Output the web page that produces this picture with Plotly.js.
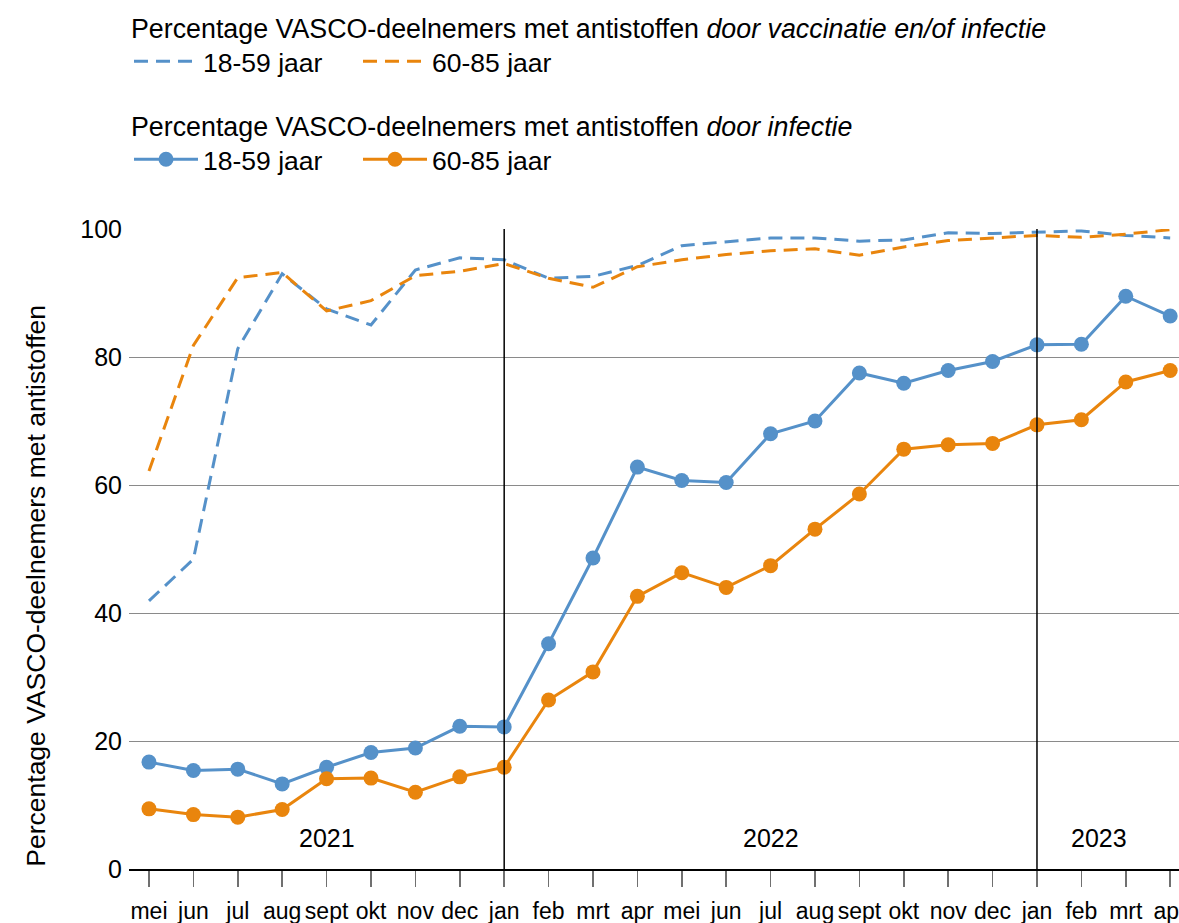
<!DOCTYPE html>
<html>
<head>
<meta charset="utf-8">
<script src="https://cdn.plot.ly/plotly-3.0.1.min.js"></script>
<style>html,body{margin:0;padding:0;background:#fff;overflow:hidden;}#chart{width:1179px;height:923px;}</style>
</head>
<body>
<div id="chart"></div>
<script>
// Month labels (mei 2021 .. apr 2023)
const months = ["mei","jun","jul","aug","sept","okt","nov","dec","jan","feb","mrt","apr","mei","jun","jul","aug","sept","okt","nov","dec","jan","feb","mrt","apr"];
const xIndex = months.map((m, i) => i);

// Antibodies by vaccination and/or infection (dashed)
const vacInf_18_59 = [41.9,48.4,81.3,93.0,87.5,85.0,93.6,95.5,95.2,92.3,92.6,94.3,97.4,98.0,98.6,98.6,98.1,98.3,99.4,99.3,99.5,99.7,99.0,98.6];
const vacInf_60_85 = [62.2,81.8,92.4,93.2,87.2,88.8,92.7,93.4,94.6,92.3,90.9,94.1,95.2,96.0,96.6,96.9,95.9,97.2,98.2,98.6,99.0,98.7,99.2,99.9];

// Antibodies by infection (solid with markers)
const inf_18_59 = [16.7,15.4,15.6,13.3,15.9,18.2,18.9,22.3,22.2,35.2,48.6,62.8,60.7,60.4,68.0,70.0,77.5,75.9,77.9,79.3,81.9,82.0,89.5,86.4];
const inf_60_85 = [9.4,8.5,8.1,9.3,14.1,14.2,12.0,14.4,15.9,26.4,30.8,42.6,46.3,44.0,47.4,53.1,58.6,65.6,66.3,66.5,69.4,70.2,76.1,77.9];

// Year labels and year boundaries (index positions)
const yearLabels = ["2021","2022","2023"];
const yearLabelPos = [4, 14, 21.4];
const yearBoundaries = [8, 20];

const blue = "#5591C9";
const orange = "#E9850D";
const FONT = "Liberation Sans, Arial, sans-serif";

const traces = [
  {x: xIndex, y: vacInf_18_59, name: "18-59 jaar", mode: "lines", legend: "legend",
   line: {color: blue, width: 3, dash: "14px,8px"}},
  {x: xIndex, y: vacInf_60_85, name: "60-85 jaar", mode: "lines", legend: "legend",
   line: {color: orange, width: 3, dash: "14px,8px"}},
  {x: xIndex, y: inf_18_59, name: "18-59 jaar", mode: "lines+markers", legend: "legend2",
   line: {color: blue, width: 3}, marker: {color: blue, size: 15}},
  {x: xIndex, y: inf_60_85, name: "60-85 jaar", mode: "lines+markers", legend: "legend2",
   line: {color: orange, width: 3}, marker: {color: orange, size: 15}}
];

const plotLeft = 129, plotRight = 1179, plotTop = 229.3, plotBottom = 869.3;
const pw = plotRight - plotLeft, ph = plotBottom - plotTop;
const px2paperX = p => (p - plotLeft) / pw;
const px2paperY = p => (plotBottom - p) / ph;

const shapes = yearBoundaries.map(v => ({
  type: "line", xref: "x", yref: "y", x0: v, x1: v, y0: 0, y1: 100,
  line: {color: "#000", width: 1.5}, layer: "above"
}));

const annotations = yearLabels.map((t, i) => ({
  text: t, x: yearLabelPos[i], y: 4.9, xref: "x", yref: "y",
  showarrow: false, xanchor: "center", yanchor: "middle",
  font: {family: FONT, size: 25, color: "#000"}
}));
annotations.push({
  text: "Percentage VASCO-deelnemers met antistoffen",
  xref: "paper", yref: "paper", x: px2paperX(36), y: px2paperY(586),
  textangle: -90, showarrow: false, xanchor: "center", yanchor: "middle",
  font: {family: FONT, size: 26.5, color: "#000"}
});

const legendCommon = {
  orientation: "h", xanchor: "left", yanchor: "top",
  font: {family: FONT, size: 26.5, color: "#000"},
  bgcolor: "rgba(0,0,0,0)", itemwidth: 64, entrywidth: 150, entrywidthmode: "pixels",
  traceorder: "normal"
};

const layout = {
  width: 1179, height: 923,
  margin: {l: plotLeft, r: 1179 - plotRight, t: plotTop, b: 923 - plotBottom, pad: 0},
  paper_bgcolor: "#fff", plot_bgcolor: "#fff",
  font: {family: FONT, color: "#000"},
  showlegend: true,
  legend: Object.assign({}, legendCommon, {
    x: px2paperX(129), y: px2paperY(3),
    title: {text: "Percentage VASCO-deelnemers met antistoffen <i>door vaccinatie en/of infectie</i>", side: "top",
            font: {family: FONT, size: 26.8, color: "#000"}}
  }),
  legend2: Object.assign({}, legendCommon, {
    x: px2paperX(129), y: px2paperY(101),
    title: {text: "Percentage VASCO-deelnemers met antistoffen <i>door infectie</i>", side: "top",
            font: {family: FONT, size: 26.8, color: "#000"}}
  }),
  xaxis: {
    range: [-0.45, (plotRight - plotLeft) / 44.4 - 0.45],
    tickmode: "array", tickvals: xIndex, ticktext: months,
    tickangle: 0, ticklabeloverflow: "allow", ticklabelstandoff: 4,
    showgrid: false, zeroline: false,
    showline: true, linecolor: "#000", linewidth: 2,
    ticks: "outside", ticklen: 16, tickwidth: 1.5, tickcolor: "#707070",
    tickfont: {family: FONT, size: 23, color: "#000"},
    fixedrange: true
  },
  yaxis: {
    range: [0, 100], tickvals: [0, 20, 40, 60, 80, 100],
    showgrid: true, gridcolor: "#8a8a8a", gridwidth: 1,
    zeroline: false, showline: false, ticks: "",
    ticklabelstandoff: 6,
    tickfont: {family: FONT, size: 25, color: "#000"},
    fixedrange: true
  },
  shapes: shapes,
  annotations: annotations
};

Plotly.newPlot("chart", traces, layout, {staticPlot: true, displayModeBar: false});
</script>
</body>
</html>
